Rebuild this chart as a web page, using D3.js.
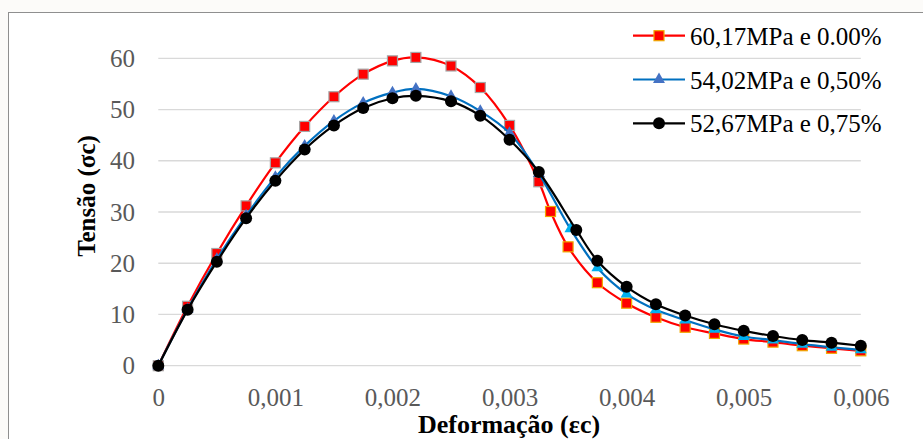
<!DOCTYPE html>
<html>
<head>
<meta charset="utf-8">
<script src="https://cdn.jsdelivr.net/npm/d3@7"></script>
<style>
  html, body { margin: 0; padding: 0; background: #fcfbf9; }
  svg { display: block; }
</style>
</head>
<body>
<script>
// dados
var deformacao00 = [0, 0.00025, 0.0005, 0.00075, 0.001, 0.00125, 0.0015, 0.00175, 0.002, 0.0022, 0.0025, 0.00275, 0.003, 0.00325, 0.00335, 0.0035, 0.00375, 0.004, 0.00425, 0.0045, 0.00475, 0.005, 0.00525, 0.0055, 0.00575, 0.006];
var tensao00 = [0, 11.6, 21.9, 31.2, 39.6, 46.7, 52.5, 56.9, 59.5, 60.17, 58.5, 54.3, 46.9, 35.9, 30.1, 23.2, 16.2, 12.2, 9.45, 7.5, 6.3, 5.2, 4.6, 3.9, 3.4, 2.9];

var deformacao50 = [0, 0.00025, 0.0005, 0.00075, 0.001, 0.00125, 0.0015, 0.00175, 0.002, 0.0022, 0.0025, 0.00275, 0.003, 0.00325, 0.00352, 0.00375, 0.004, 0.00425, 0.0045, 0.00475, 0.005, 0.00525, 0.0055, 0.00575, 0.006];
var tensao50 = [0, 11.0, 20.8, 29.3, 36.8, 42.9, 47.8, 51.3, 53.3, 54.02, 52.6, 49.7, 45.4, 37.5, 26.7, 19.1, 14.0, 10.9, 8.9, 7.1, 5.7, 5.0, 4.2, 3.6, 3.1];

var deformacao75 = [0, 0.00025, 0.0005, 0.00075, 0.001, 0.00125, 0.0015, 0.00175, 0.002, 0.0022, 0.0025, 0.00275, 0.003, 0.00325, 0.00357, 0.00375, 0.004, 0.00425, 0.0045, 0.00475, 0.005, 0.00525, 0.0055, 0.00575, 0.006];
var tensao75 = [0, 10.9, 20.3, 28.8, 36.1, 42.2, 46.9, 50.3, 52.2, 52.67, 51.6, 48.8, 44.1, 37.8, 26.5, 20.5, 15.4, 12.0, 9.8, 8.1, 6.8, 5.8, 5.0, 4.5, 3.9];

var nomesSeries = ["60,17MPa e 0.00%", "54,02MPa e 0,50%", "52,67MPa e 0,75%"];
var ticksX = [0, 0.001, 0.002, 0.003, 0.004, 0.005, 0.006];
var ticksY = [0, 10, 20, 30, 40, 50, 60];

var fonte = "'Liberation Serif', 'Times New Roman', serif";
var width = 923;
var height = 439;
var svgTag = d3.select("body").append("svg")
	.attr("width", width)
	.attr("height", height)
	.attr("font-family", fonte);

// moldura do grafico
svgTag.append("rect")
	.attr("x", 8.5).attr("y", 12.5)
	.attr("width", 940).attr("height", 450)
	.attr("fill", "#ffffff")
	.attr("stroke", "#8f8f8f")
	.attr("stroke-width", 1);

var x = d3.scaleLinear().domain([0, 0.006]).range([158.3, 860.8]);
var y = d3.scaleLinear().domain([0, 60]).range([365.7, 58.3]);

var fmtX = function (d) { return d === 0 ? "0" : d3.format(".3f")(d).replace(".", ","); };

// grade horizontal
svgTag.append("g").selectAll("line")
	.data(ticksY)
	.enter().append("line")
	.attr("x1", x(0)).attr("x2", x(0.006))
	.attr("y1", d => y(d)).attr("y2", d => y(d))
	.attr("stroke", "#d9d9d9")
	.attr("stroke-width", 1.3);

// eixo y
var eixoY = svgTag.append("g")
	.attr("transform", "translate(" + 135 + ",0)")
	.call(d3.axisLeft(y).tickValues(ticksY).tickSize(0).tickPadding(0));
eixoY.attr("font-family", fonte);
eixoY.select(".domain").remove();
eixoY.selectAll("text")
	.attr("fill", "#595959")
	.attr("font-size", "25px")
	.attr("font-family", fonte);

// eixo x
var eixoX = svgTag.append("g")
	.attr("transform", "translate(0," + 388 + ")")
	.call(d3.axisBottom(x).tickValues(ticksX).tickFormat(fmtX).tickSize(0).tickPadding(0));
eixoX.attr("font-family", fonte);
eixoX.select(".domain").remove();
eixoX.selectAll("text")
	.attr("fill", "#595959")
	.attr("font-size", "25px")
	.attr("font-family", fonte);

// titulos dos eixos
svgTag.append("text")
	.attr("x", 509).attr("y", 433)
	.attr("text-anchor", "middle")
	.attr("font-size", "26px")
	.attr("font-weight", "bold")
	.attr("font-family", fonte)
	.attr("fill", "#000")
	.text("Deformação (εc)");

svgTag.append("text")
	.attr("transform", "translate(95,196) rotate(-90)")
	.attr("text-anchor", "middle")
	.attr("font-size", "25px")
	.attr("font-weight", "bold")
	.attr("font-family", fonte)
	.attr("fill", "#000")
	.text("Tensão (σc)");

var linha = d3.line()
	.x(d => x(d[0]))
	.y(d => y(d[1]))
	.curve(d3.curveCatmullRom.alpha(0.5));

var limiteRamo = 0.00326;

var series = [
	{ xs: deformacao00, ys: tensao00, cor: "#ff0000", marca: "quadrado" },
	{ xs: deformacao50, ys: tensao50, cor: "#0070c0", marca: "triangulo" },
	{ xs: deformacao75, ys: tensao75, cor: "#000000", marca: "circulo" }
];

function desenhaMarca(g, marca, ramoDesc, legenda) {
	if (marca === "quadrado") {
		g.append("rect")
			.attr("x", -5).attr("y", -5)
			.attr("width", 10).attr("height", 10)
			.attr("fill", "#ff0000")
			.attr("stroke", (ramoDesc || legenda) ? "#f0a800" : "#a5a5a5")
			.attr("stroke-width", 1.2);
	} else if (marca === "triangulo") {
		g.append("path")
			.attr("d", d3.symbol().type(d3.symbolTriangle).size(62)())
			.attr("fill", ramoDesc ? "#00b0f0" : "#4472c4");
	} else {
		g.append("circle")
			.attr("r", 6)
			.attr("fill", "#000");
	}
}

series.forEach(function (s) {
	var pontos = s.xs.map((v, i) => [v, s.ys[i]]);
	svgTag.append("path")
		.datum(pontos)
		.attr("fill", "none")
		.attr("stroke", s.cor)
		.attr("stroke-width", 2.2)
		.attr("d", linha);
	var marcas = svgTag.append("g");
	pontos.forEach(function (p) {
		var g = marcas.append("g")
			.attr("transform", "translate(" + x(p[0]) + "," + y(p[1]) + ")");
		desenhaMarca(g, s.marca, p[0] > limiteRamo, false);
	});
});

// legenda
var legenda = svgTag.append("g");
series.forEach(function (s, i) {
	var ly = 35.7 + i * 43.8;
	legenda.append("line")
		.attr("x1", 633).attr("x2", 685)
		.attr("y1", ly).attr("y2", ly)
		.attr("stroke", s.cor)
		.attr("stroke-width", 2.2);
	var g = legenda.append("g").attr("transform", "translate(659," + ly + ")");
	desenhaMarca(g, s.marca, false, true);
	legenda.append("text")
		.attr("x", 690).attr("y", ly + 9)
		.attr("font-size", "25px")
		.attr("font-family", fonte)
		.attr("fill", "#000")
		.text(nomesSeries[i]);
});
</script>
</body>
</html>
